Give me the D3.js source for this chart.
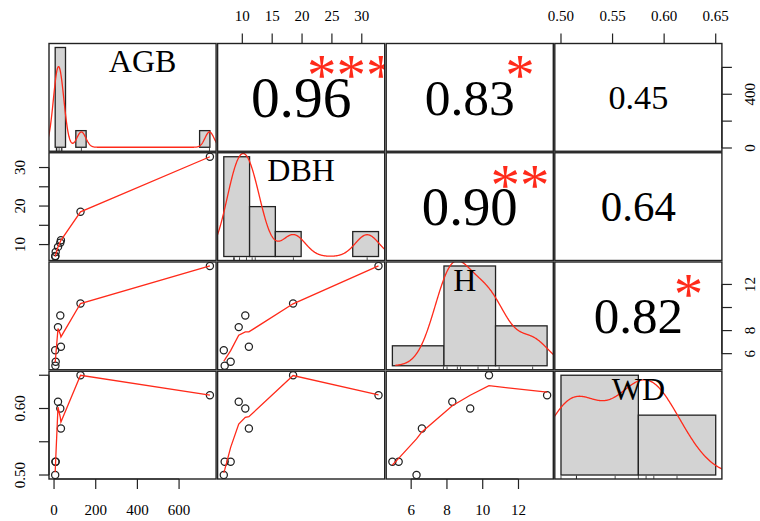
<!DOCTYPE html>
<html>
<head>
<meta charset="utf-8">
<script src="https://cdn.jsdelivr.net/npm/d3@7/dist/d3.min.js"></script>
<style>
  html, body { margin: 0; padding: 0; background: #fff; }
  svg { display: block; font-family: "Liberation Serif", "DejaVu Serif", serif; }
</style>
</head>
<body>
<script>
// variables, in plot order
const vars = ['AGB', 'DBH', 'H', 'WD']

// one value per tree
const AGB = [5.5, 6.5, 8, 19, 30, 33, 127, 748]
const DBH = [6.9, 7.05, 8.05, 9.4, 10.5, 11.1, 18.5, 32.8]
const H = [6.3, 4.95, 5.3, 8.3, 9.3, 6.6, 10.35, 13.6]
const WD = [0.50, 0.52, 0.52, 0.61, 0.60, 0.57, 0.65, 0.62]

// histogram breaks on the diagonal
const breaksAGB = [0, 50, 100, 150, 200, 250, 300, 350, 400, 450, 500, 550, 600, 650, 700, 750]
const breaksDBH = [5, 10, 15, 20, 25, 30, 35]
const breaksH = [0, 5, 10, 15]
const breaksWD = [0.5, 0.6, 0.7]

// upper panels: pair, correlation, significance stars
const corPairs = [['AGB', 'DBH'], ['AGB', 'H'], ['AGB', 'WD'], ['DBH', 'H'], ['DBH', 'WD'], ['H', 'WD']]
const corValues = [0.96, 0.83, 0.45, 0.90, 0.64, 0.82]
const corStars = ['***', '*', '', '**', '', '*']

// axis ticks and which of them carry a label
const ticksAGB = [0, 200, 400, 600]
const ticksDBH = [10, 15, 20, 25, 30]
const ticksH = [6, 8, 10, 12]
const ticksWD = [0.50, 0.55, 0.60, 0.65]
const labelsBottomAGB = [0, 200, 400, 600]
const labelsBottomH = [6, 8, 10, 12]
const labelsTopDBH = [10, 15, 20, 25, 30]
const labelsTopWD = [0.50, 0.55, 0.60, 0.65]
const labelsLeftDBH = [10, 20, 30]
const labelsLeftWD = [0.50, 0.60]
const labelsRightAGB = [0, 400]
const labelsRightH = [6, 8, 12]

const data = {AGB, DBH, H, WD}
const breaks = {AGB: breaksAGB, DBH: breaksDBH, H: breaksH, WD: breaksWD}
const ticks = {AGB: ticksAGB, DBH: ticksDBH, H: ticksH, WD: ticksWD}

const width = 760, height = 521
const gridLeft = 49, gridTop = 43.5, pw = 167.1, ph = 107.75, gap = 1.5
const px = j => gridLeft + j * (pw + gap)
const py = i => gridTop + i * (ph + gap)
const red = '#ff2a1a'
const ink = '#222'
const labelDx = [10, 0, -5, 0]   // diag label nudges, as in the picture

const fmt = v => v === 'WD' ? d3.format('.2f') : d3.format('d')

// R style 4% padded range
const padded = ([lo, hi]) => { const d = (hi - lo) * 0.04; return [lo - d, hi + d] }
const xScale = (v, j) => d3.scaleLinear().domain(padded(d3.extent(data[v]))).range([px(j), px(j) + pw])
const yScale = (v, i) => d3.scaleLinear().domain(padded(d3.extent(data[v]))).range([py(i) + ph, py(i)])

// R's lowess (clowess port)
function lowest(x, y, n, xs, nleft, nright, userw, rw) {
    const range = x[n - 1] - x[0]
    const h = Math.max(xs - x[nleft], x[nright] - xs)
    const h9 = 0.999 * h, h1 = 0.001 * h
    const w = new Array(n).fill(0)
    let a = 0, j = nleft
    while (j < n) {
        w[j] = 0
        const r = Math.abs(x[j] - xs)
        if (r <= h9) {
            w[j] = r <= h1 ? 1 : Math.pow(1 - Math.pow(r / h, 3), 3)
            if (userw) w[j] *= rw[j]
            a += w[j]
        } else if (x[j] > xs) break
        j++
    }
    const nrt = j - 1
    if (a <= 0) return null
    for (j = nleft; j <= nrt; j++) w[j] /= a
    if (h > 0) {
        a = 0
        for (j = nleft; j <= nrt; j++) a += w[j] * x[j]
        let b = xs - a, c = 0
        for (j = nleft; j <= nrt; j++) c += w[j] * (x[j] - a) * (x[j] - a)
        if (Math.sqrt(c) > 0.001 * range) {
            b /= c
            for (j = nleft; j <= nrt; j++) w[j] *= (b * (x[j] - a) + 1)
        }
    }
    let ys = 0
    for (j = nleft; j <= nrt; j++) ys += w[j] * y[j]
    return ys
}

function lowess(xIn, yIn, f = 2 / 3, nsteps = 3) {
    const order = d3.range(xIn.length).sort((a, b) => xIn[a] - xIn[b])
    const x = order.map(k => xIn[k]), y = order.map(k => yIn[k])
    const n = x.length
    const delta = 0.01 * (x[n - 1] - x[0])
    const ns = Math.max(2, Math.min(n, Math.floor(f * n + 1e-7)))
    const ys = new Array(n).fill(0), rw = new Array(n).fill(1), res = new Array(n).fill(0)
    for (let iter = 1; iter <= nsteps + 1; iter++) {
        let nleft = 0, nright = ns - 1, last = -1, i = 0
        for (;;) {
            if (nright < n - 1) {
                const d1 = x[i] - x[nleft], d2 = x[nright + 1] - x[i]
                if (d1 > d2) { nleft++; nright++; continue }
            }
            const fit = lowest(x, y, n, x[i], nleft, nright, iter > 1, rw)
            ys[i] = fit === null ? y[i] : fit
            if (last < i - 1) {
                const denom = x[i] - x[last]
                for (let j = last + 1; j < i; j++) {
                    const alpha = (x[j] - x[last]) / denom
                    ys[j] = alpha * ys[i] + (1 - alpha) * ys[last]
                }
            }
            last = i
            const cut = x[last] + delta
            for (i = last + 1; i < n; i++) {
                if (x[i] > cut) break
                if (x[i] === x[last]) { ys[i] = ys[last]; last = i }
            }
            i = Math.max(last + 1, i - 1)
            if (last >= n - 1) break
        }
        for (let k = 0; k < n; k++) res[k] = y[k] - ys[k]
        const sc = d3.mean(res, Math.abs)
        if (iter > nsteps) break
        const ar = res.map(Math.abs).sort((a, b) => a - b)
        const m1 = Math.floor(n / 2)
        const cmad = n % 2 === 0 ? 3 * (ar[m1] + ar[n - m1 - 1]) : 6 * ar[m1]
        if (cmad < 1e-7 * sc) break
        const c9 = 0.999 * cmad, c1 = 0.001 * cmad
        for (let k = 0; k < n; k++) {
            const r = Math.abs(res[k])
            rw[k] = r <= c1 ? 1 : r <= c9 ? Math.pow(1 - Math.pow(r / cmad, 2), 2) : 0
        }
    }
    return x.map((xv, k) => [xv, ys[k]])
}

// gaussian kde with bw.nrd0
function density(vals) {
    const n = vals.length
    const iqr = d3.quantile(vals, 0.75) - d3.quantile(vals, 0.25)
    const bw = 0.9 * Math.min(d3.deviation(vals), iqr / 1.34) * Math.pow(n, -0.2)
    const lo = d3.min(vals) - 3 * bw, hi = d3.max(vals) + 3 * bw
    return d3.range(512).map(k => {
        const g = lo + k * (hi - lo) / 511
        const d = d3.mean(vals, v => Math.exp(-0.5 * ((g - v) / bw) ** 2)) / (bw * Math.sqrt(2 * Math.PI))
        return [g, d]
    })
}

const svg = d3.select('body').append('svg')
    .attr('width', width)
    .attr('height', height)

const defs = svg.append('defs')
vars.forEach((_, i) => vars.forEach((_, j) => {
    defs.append('clipPath').attr('id', `clip-${i}-${j}`)
        .append('rect')
        .attr('x', px(j)).attr('y', py(i)).attr('width', pw).attr('height', ph)
}))

const line = d3.line()

vars.forEach((rowVar, i) => {
    vars.forEach((colVar, j) => {
        const g = svg.append('g')
        const inner = g.append('g').attr('clip-path', `url(#clip-${i}-${j})`)

        if (i === j) {
            // histogram + density + rug
            const vals = data[rowVar]
            const br = breaks[rowVar]
            const n = vals.length
            const bins = br.slice(0, -1).map((lo, k) => {
                const hi = br[k + 1]
                const count = vals.filter(v => (k === 0 ? v >= lo : v > lo) && v <= hi).length
                return {lo, hi, density: count / (n * (hi - lo))}
            })
            const maxD = d3.max(bins, b => b.density)
            const hx = d3.scaleLinear().domain(padded([br[0], br[br.length - 1]])).range([px(j), px(j) + pw])
            const hy = d3.scaleLinear().domain(padded([0, maxD])).range([py(i) + ph, py(i)])

            inner.selectAll('rect.bar')
                .data(bins.filter(b => b.density > 0))
                .join('rect')
                .attr('x', b => hx(b.lo))
                .attr('y', b => hy(b.density))
                .attr('width', b => hx(b.hi) - hx(b.lo))
                .attr('height', b => hy(0) - hy(b.density))
                .attr('fill', '#d3d3d3')
                .attr('stroke', ink)
                .attr('stroke-width', 1.3)

            inner.append('path')
                .attr('d', line(density(vals).map(([a, b]) => [hx(a), hy(b)])))
                .attr('fill', 'none')
                .attr('stroke', red)
                .attr('stroke-width', 1.3)

            inner.selectAll('line.rug')
                .data(vals)
                .join('line')
                .attr('x1', d => hx(d)).attr('x2', d => hx(d))
                .attr('y1', py(i) + ph).attr('y2', py(i) + ph - 0.03 * ph)
                .attr('stroke', ink)
                .attr('stroke-width', 0.8)

            g.append('text')
                .attr('x', px(j) + pw / 2 + labelDx[i])
                .attr('y', py(i) + ph * (1 - 0.833) + 0.33 * 32)
                .attr('text-anchor', 'middle')
                .attr('font-size', 32)
                .attr('fill', '#000')
                .text(rowVar)
        } else if (i > j) {
            // scatter + lowess
            const sx = xScale(colVar, j), sy = yScale(rowVar, i)
            const xs = data[colVar], ys = data[rowVar]
            inner.selectAll('circle')
                .data(xs.map((x, k) => [x, ys[k]]))
                .join('circle')
                .attr('cx', d => sx(d[0]))
                .attr('cy', d => sy(d[1]))
                .attr('r', 3.6)
                .attr('fill', 'none')
                .attr('stroke', ink)
                .attr('stroke-width', 1.25)
            inner.append('path')
                .attr('d', line(lowess(xs, ys).map(([a, b]) => [sx(a), sy(b)])))
                .attr('fill', 'none')
                .attr('stroke', red)
                .attr('stroke-width', 1.3)
        } else {
            // correlation text
            const k = corPairs.findIndex(p => p[0] === rowVar && p[1] === colVar)
            const r = corValues[k]
            const fs = 45.6 * (Math.abs(r) + 0.3)
            g.append('text')
                .attr('x', px(j) + pw / 2)
                .attr('y', py(i) + ph / 2 + 0.338 * fs)
                .attr('text-anchor', 'middle')
                .attr('font-size', fs)
                .attr('fill', '#000')
                .text(d3.format('.2f')(r))
            const starFs = 59
            inner.append('text')
                .attr('x', px(j) + 0.8 * pw)
                .attr('y', py(i) + 0.2 * ph + 2.5 + 0.47 * starFs)
                .attr('text-anchor', 'middle')
                .attr('font-size', starFs)
                .attr('fill', red)
                .text(corStars[k])
        }

        g.append('rect')
            .attr('x', px(j)).attr('y', py(i))
            .attr('width', pw).attr('height', ph)
            .attr('fill', 'none')
            .attr('stroke', ink)
            .attr('stroke-width', 1.4)
    })
})

// outer axes
const tickLen = 10
const axisG = svg.append('g').attr('font-size', 15).attr('fill', '#000')

function hAxis(v, j, labels, side) {
    const s = xScale(v, j)
    const y0 = side === 'bottom' ? py(3) + ph : py(0)
    const dir = side === 'bottom' ? 1 : -1
    const t = ticks[v]
    axisG.append('line')
        .attr('x1', s(t[0])).attr('x2', s(t[t.length - 1]))
        .attr('y1', y0).attr('y2', y0)
        .attr('stroke', ink).attr('stroke-width', 1.2)
    axisG.selectAll(null).data(t).join('line')
        .attr('x1', d => s(d)).attr('x2', d => s(d))
        .attr('y1', y0).attr('y2', y0 + dir * tickLen)
        .attr('stroke', ink).attr('stroke-width', 1.2)
    axisG.selectAll(null).data(labels).join('text')
        .attr('x', d => s(d))
        .attr('y', side === 'bottom' ? y0 + 36 : y0 - 23)
        .attr('text-anchor', 'middle')
        .text(fmt(v))
}

function vAxis(v, i, labels, side) {
    const s = yScale(v, i)
    const x0 = side === 'left' ? px(0) : px(3) + pw
    const dir = side === 'left' ? -1 : 1
    const t = ticks[v]
    axisG.append('line')
        .attr('y1', s(t[0])).attr('y2', s(t[t.length - 1]))
        .attr('x1', x0).attr('x2', x0)
        .attr('stroke', ink).attr('stroke-width', 1.2)
    axisG.selectAll(null).data(t).join('line')
        .attr('y1', d => s(d)).attr('y2', d => s(d))
        .attr('x1', x0).attr('x2', x0 + dir * tickLen)
        .attr('stroke', ink).attr('stroke-width', 1.2)
    const lx = side === 'left' ? 25 : 755
    axisG.selectAll(null).data(labels).join('text')
        .attr('transform', d => `translate(${lx},${s(d)}) rotate(-90)`)
        .attr('text-anchor', 'middle')
        .text(fmt(v))
}

hAxis('AGB', 0, labelsBottomAGB, 'bottom')
hAxis('H', 2, labelsBottomH, 'bottom')
hAxis('DBH', 1, labelsTopDBH, 'top')
hAxis('WD', 3, labelsTopWD, 'top')
vAxis('DBH', 1, labelsLeftDBH, 'left')
vAxis('WD', 3, labelsLeftWD, 'left')
vAxis('AGB', 0, labelsRightAGB, 'right')
vAxis('H', 2, labelsRightH, 'right')
</script>
</body>
</html>
